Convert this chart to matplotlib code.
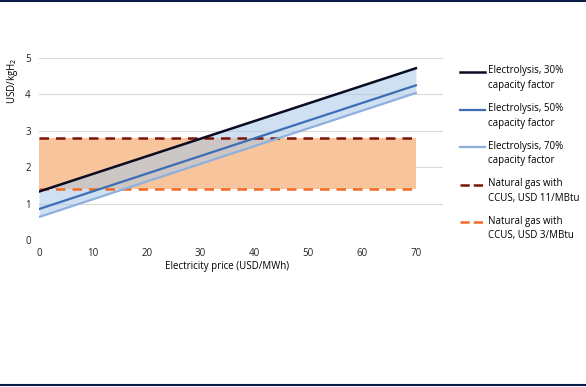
import matplotlib
matplotlib.use("Agg")
import matplotlib.pyplot as plt
from matplotlib.lines import Line2D

# electricity price (USD/MWh) at the two ends of each line
price = [0, 70]

# hydrogen cost, USD/kgH2
elec_30 = [1.33, 4.72]
elec_50 = [0.85, 4.25]
elec_70 = [0.63, 4.04]
gas_high = [2.8, 2.8]   # USD 11/MBtu
gas_low = [1.4, 1.4]    # USD 3/MBtu

labels = [
    "Electrolysis, 30%\ncapacity factor",
    "Electrolysis, 50%\ncapacity factor",
    "Electrolysis, 70%\ncapacity factor",
    "Natural gas with\nCCUS, USD 11/MBtu",
    "Natural gas with\nCCUS, USD 3/MBtu",
]

plt.rcParams['font.family'] = ['Open Sans', 'DejaVu Sans']

W, H = 586, 387
fig = plt.figure(figsize=(W / 100, H / 100), dpi=100)
ax = fig.add_axes([0.0666, 0.380, 0.689, 0.470])

# shaded ranges
ax.fill_between(price, gas_low, gas_high, color='#f8c49b', lw=0, zorder=1)
ax.fill_between(price, elec_70, elec_30, color='#a9c8e8', alpha=0.55, lw=0, zorder=2)

h1, = ax.plot(price, elec_30, color='#0b0b22', lw=1.8, zorder=4)
h2, = ax.plot(price, elec_50, color='#3d6db5', lw=1.6, zorder=4)
h3, = ax.plot(price, elec_70, color='#8db0dc', lw=1.6, zorder=4)
h4, = ax.plot(price, gas_high, color='#7a1508', lw=1.8, ls=(0, (3.8, 2.8)), zorder=3)
h5, = ax.plot(price, gas_low, color='#f06a22', lw=1.8, ls=(0, (3.8, 2.8)), zorder=3)

ax.set_xlim(0, 75)
ax.set_ylim(0, 5)
ax.set_xticks(range(0, 71, 10))
ax.set_yticks(range(0, 6))
ax.tick_params(length=0, labelsize=7, colors='#222222', pad=6)
ax.grid(axis='y', color='#d9d9d9', lw=0.8)
ax.set_axisbelow(True)
for s in ax.spines.values():
    s.set_visible(False)

ax.text(-0.065, 1.005, "USD/kgH$_2$", fontsize=7, rotation=90,
        ha='center', va='top', transform=ax.transAxes)
ax.text(35, -0.72, "Electricity price (USD/MWh)", fontsize=7,
        ha='center', va='center')

# legend: handle sits level with the first text line, as in the original
for i, (h, lab) in enumerate(zip([h1, h2, h3, h4, h5], labels)):
    yp = 72 + i * 37.6
    fig.add_artist(Line2D([460 / W, 485 / W], [1 - yp / H] * 2, color=h.get_color(),
                          lw=h.get_linewidth(), ls=h.get_linestyle()))
    fig.text(488 / W, 1 - (yp - 6.5) / H, lab, fontsize=7, va='top',
             ha='left', linespacing=1.45)

# navy rules at top and bottom of the figure
fig.add_artist(Line2D([0, 1], [0.998, 0.998], color='#0d1a4a', lw=1.5))
fig.add_artist(Line2D([0, 1], [0.004, 0.004], color='#0d1a4a', lw=1.5))

fig.savefig("out.png", dpi=100)
